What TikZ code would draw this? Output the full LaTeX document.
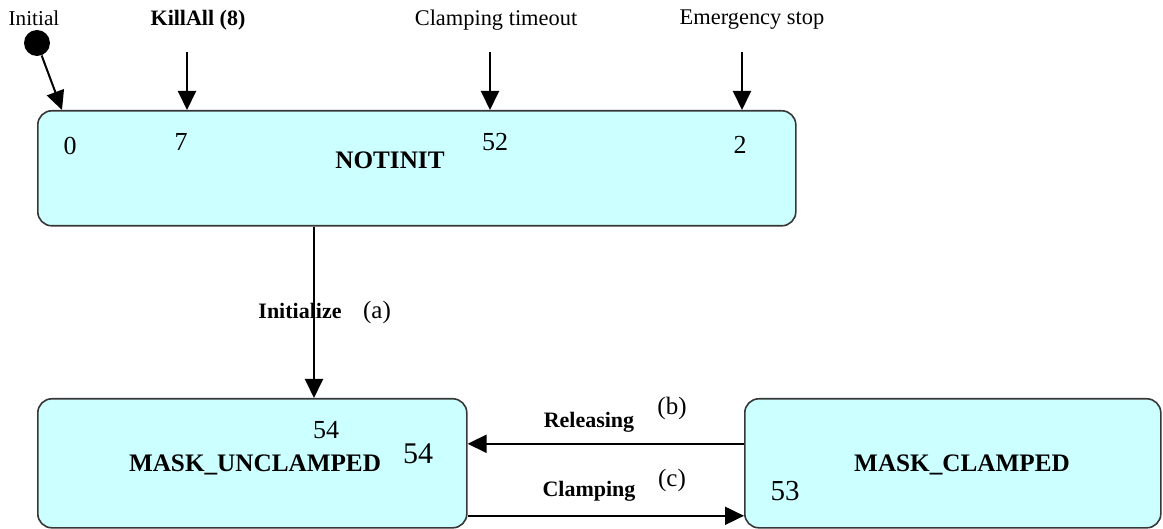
\documentclass[tikz,border=0pt]{standalone}
\usepackage{fontspec}
\setmainfont{Liberation Serif}
\usetikzlibrary{arrows.meta,positioning}
\definecolor{statefill}{RGB}{204,255,255}
\definecolor{stateline}{RGB}{55,55,55}

\begin{document}
\begin{tikzpicture}[x=0.5pt,y=-0.5pt,
  every node/.style={font=\fontsize{11.2}{13}\selectfont,inner sep=0pt},
  state/.style={draw=stateline,line width=0.8pt,rounded corners=7pt,fill=statefill,anchor=north west},
  trans/.style={-{Triangle[length=9.5pt,width=9pt]},line width=1pt},
  num/.style={font=\fontsize{13}{15}\selectfont},
  title/.style={font=\fontsize{12.6}{15}\selectfont\bfseries},
  evt/.style={font=\fontsize{11}{13}\selectfont\bfseries},
  tag/.style={font=\fontsize{12.5}{15}\selectfont}]
\useasboundingbox (0,0) rectangle (1163,529);
% states
\node[state,minimum width=379pt,minimum height=57.5pt] (notinit) at (37,110) {};
\node[state,minimum width=214.5pt,minimum height=64.5pt] (unclamped) at (37,398) {};
\node[state,minimum width=208pt,minimum height=64.5pt] (clamped) at (744,398) {};
\node[title] (notinitlbl) at (390,160) {NOTINIT};
\node[title] (unclampedlbl) at (255,465) {MASK\_UNCLAMPED};
\node[title] (clampedlbl) at (962,465) {MASK\_CLAMPED};
% state numbers
\node[num] (n0) at (70,146) {0};
\node[num] (n7) at (181,142) {7};
\node[num] (n52) at (495,142) {52};
\node[num] (n2) at (740,145) {2};
\node[num] (n54a) at (326,430) {54};
\node[num,font=\fontsize{15}{17}\selectfont] (n54b) at (418,454) {54};
\node[num,font=\fontsize{14.5}{17}\selectfont] (n53) at (785,491) {53};
% initial and events
\node[circle,fill=black,minimum size=13pt] (init) at (37,43) {};
\node[font=\fontsize{10.6}{13}\selectfont] (initlbl) at (34,18) {Initial};
\node[evt] (killall) at (198,20) {KillAll (8)};
\node (timeout) at (496,20) {Clamping timeout};
\node (estop) at (752,20) {Emergency stop};
\coordinate (in0) at (62,110);
\coordinate (k0) at (187,52);
\coordinate (t0) at (490,52);
\coordinate (e0) at (742,52);
\coordinate (i0) at (314,0);
\draw[trans] (init) -- (in0);
\draw[trans] (k0) -- (k0 |- notinit.north);
\draw[trans] (t0) -- (t0 |- notinit.north);
\draw[trans] (e0) -- (e0 |- notinit.north);
% transitions
\draw[trans] (i0 |- notinit.south) -- (i0 |- unclamped.north);
\draw[trans] ([yshift=9.75pt]clamped.west) -- ([yshift=9.75pt]unclamped.east);
\draw[trans] ([yshift=-26.25pt]unclamped.east) -- ([yshift=-26.25pt]clamped.west);
\node[evt] (initlz) at (300,311) {Initialize};
\node[tag] (a) at (377,312) {(a)};
\node[evt] (rel) at (589,422) {Releasing};
\node[tag] (b) at (672,408) {(b)};
\node[evt] (clp) at (589,491) {Clamping};
\node[tag] (c) at (672,480) {(c)};
\end{tikzpicture}
\end{document}
